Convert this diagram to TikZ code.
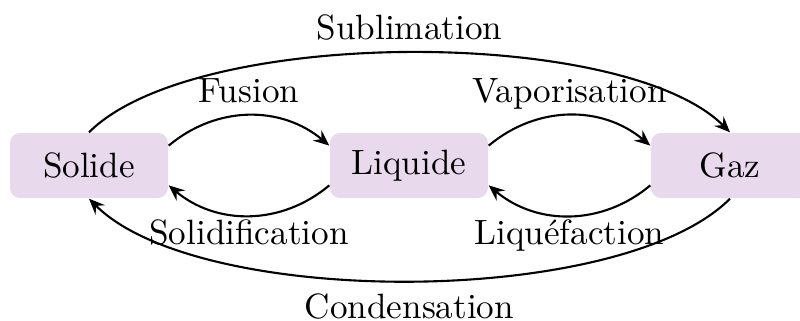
\documentclass[tikz,border=0pt]{standalone}
\usepackage{fontspec}
\usepackage{tikz}
\usetikzlibrary{arrows.meta}
\definecolor{etatfill}{RGB}{232,218,236}

\begin{document}
\begin{tikzpicture}
	\useasboundingbox (0,0) rectangle (8,3.2);
	\begin{scope}[every node/.style={fill=etatfill, rounded corners=0.1cm, minimum width=1.58cm, minimum height=0.65cm}]
		\node (1) at (0.89,1.545) {Solide};
		\node (2) at (4.09,1.545) {Liquide};
		\node (3) at (7.30,1.545) {Gaz};
	\end{scope}

	\begin{scope}[>={Stealth[black,length=4.5pt,width=3.8pt,inset=1.6pt]},
	              every node/.style={text depth=0pt},
	              every edge/.style={draw=black,semithick,->}]
		\path (1.14) edge[bend left=40] node[above] {Fusion} (2.166);
		\path (2.194) edge[bend left=40] node[below=-2.5pt] {Solidification} (1.346);
		\path (2.14) edge[bend left=40] node[above] {Vaporisation} (3.166);
		\path (3.194) edge[bend left=40] node[below=-2.5pt] {Liquéfaction} (2.346);
		\path (1.north) edge[out=45,in=135,looseness=0.6] node[above] {Sublimation} (3.north);
		\path (3.south) edge[out=-135,in=-45,looseness=0.62] node[below] {Condensation} (1.south);
	\end{scope}
\end{tikzpicture}
\end{document}
